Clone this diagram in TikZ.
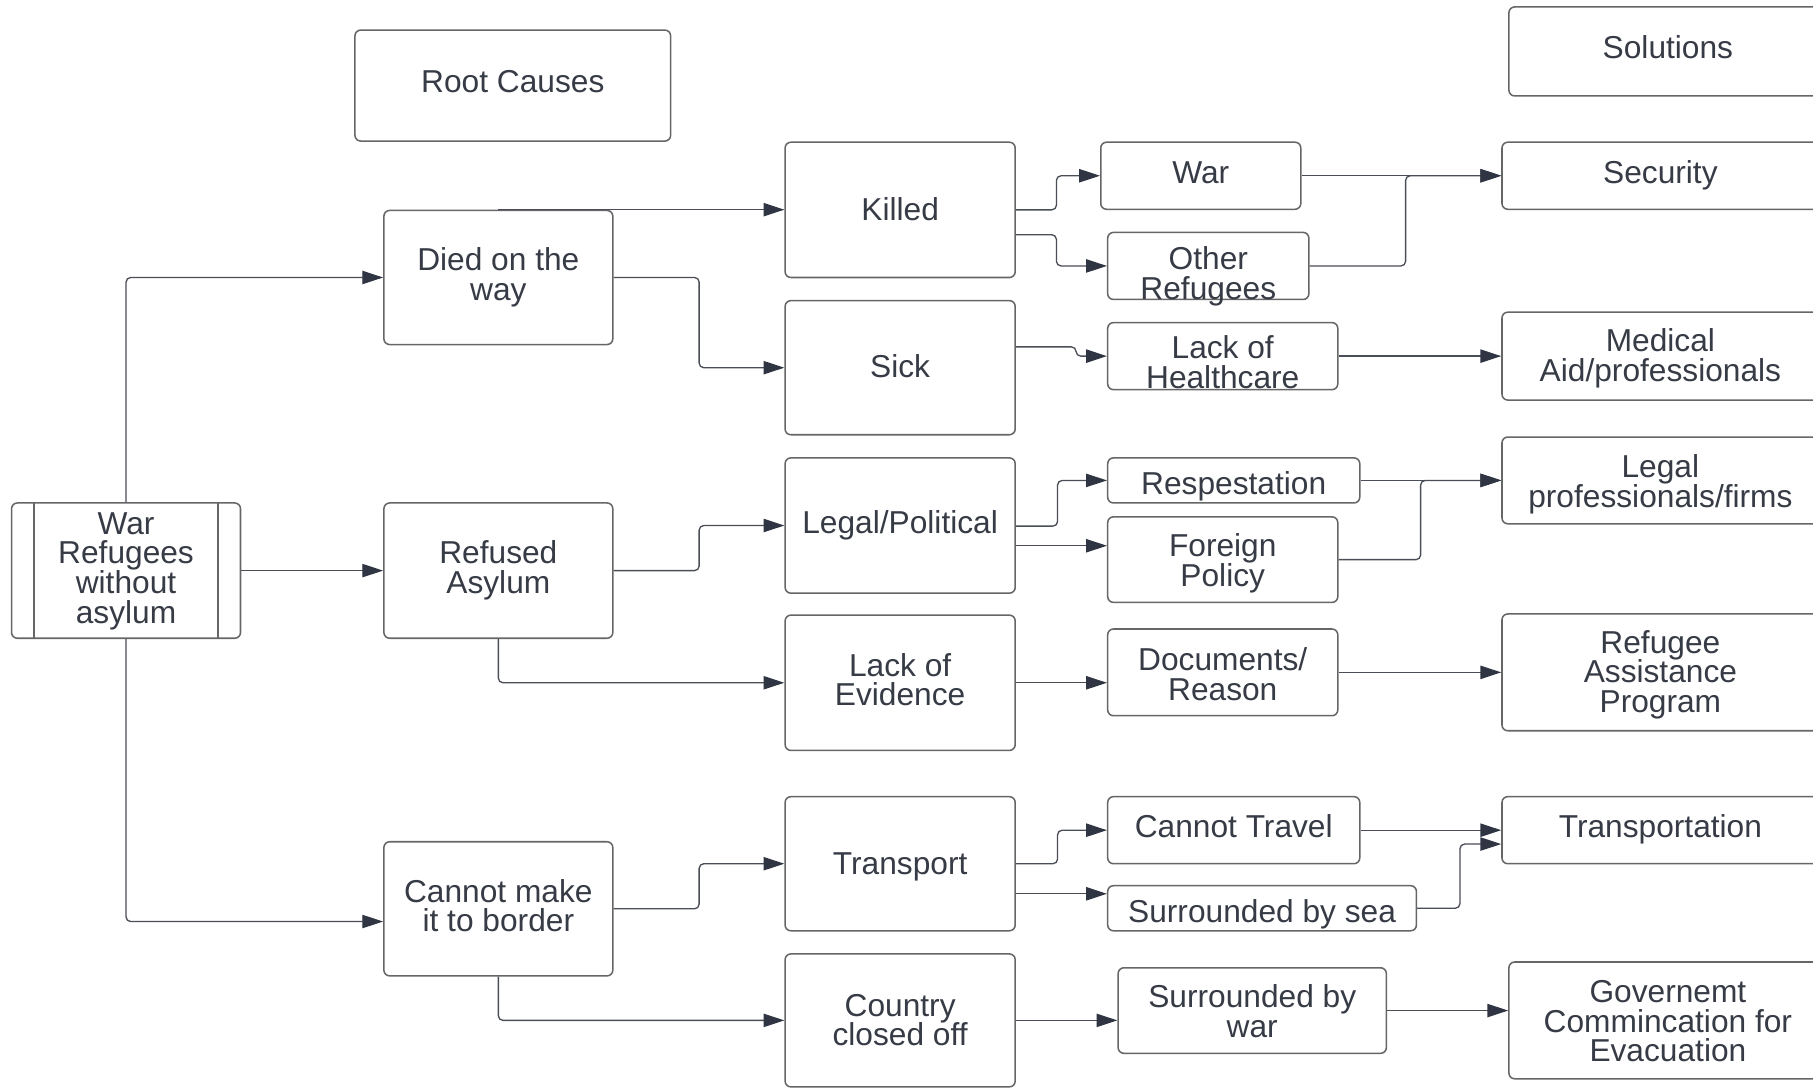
\documentclass[tikz,border=0pt]{standalone}
\usepackage{fontspec}
\usepackage{array}
\setmainfont{Liberation Sans}
\usetikzlibrary{arrows.meta}
\definecolor{txt}{HTML}{363B45}
\definecolor{edge}{HTML}{666666}
\definecolor{wire}{HTML}{4A4E57}
\definecolor{tip}{HTML}{2F3542}
\newlength\px
\setlength\px{0.02cm}
% one text line: fixed ascent and descent, so lines sit 14.7pt apart
\newcolumntype{L}{>{\rule[-3.3pt]{0pt}{14.7pt}}c}
% \boxat[text drop]{name}{x1}{y1}{x2}{y2}{text}: box given by its corners
\newcommand\boxat[7][0]{\node[box,minimum width={(#5-#3)*0.02cm},minimum height={(#6-#4)*0.02cm}] (#2) at ({(#3+#5)/2},{(#4+#6)/2}) {\raisebox{-#1\px}[\height][\depth]{\renewcommand\arraystretch{0}\begin{tabular}{@{}L@{}}#7\end{tabular}}};}
\tikzset{
  box/.style={draw=edge, line width=0.75pt, rounded corners=0.1cm, inner sep=0pt,
    text=txt, font=\fontsize{15.6}{14.7}\selectfont},
  conn/.style={draw=wire, line width=0.65pt, rounded corners=0.08cm,
    -{Triangle[length=0.36cm,width=0.23cm,color=tip]}},
}
\begin{document}
\begin{tikzpicture}[x=0.02cm,y=-0.02cm]
\useasboundingbox (0,0) rectangle (1568,942);
\fill[white] (0,0) rectangle (1568,942);
\clip (0,0) rectangle (1568,942);

% headings
\boxat[-1]{root}{307}{26}{580}{122}{Root Causes}
\boxat[-1]{sol}{1305}{6}{1580}{83}{Solutions}

% start
\boxat{wr}{10}{435}{208}{552}{War\\Refugees\\without\\asylum}
\draw[draw=edge, line width=0.75pt] ([xshift=0.4cm]wr.north west) -- ([xshift=0.4cm]wr.south west);
\draw[draw=edge, line width=0.75pt] ([xshift=-0.4cm]wr.north east) -- ([xshift=-0.4cm]wr.south east);

% root causes
\boxat{died}{332}{182}{530}{298}{Died on the\\way}
\boxat{refused}{332}{435}{530}{552}{Refused\\Asylum}
\boxat{cant}{332}{728}{530}{844}{Cannot make\\it to border}

% causes
\boxat[2]{killed}{679}{123}{878}{240}{Killed}
\boxat[1]{sick}{679}{260}{878}{376}{Sick}
\boxat{legal}{679}{396}{878}{513}{Legal/Political}
\boxat{evid}{679}{532}{878}{649}{Lack of\\Evidence}
\boxat[2]{trans}{679}{689}{878}{805}{Transport}
\boxat[2]{closed}{679}{825}{878}{940}{Country\\closed off}

% details
\boxat{war}{952}{123}{1125}{181}{War}
\boxat[9]{other}{958}{201}{1132}{259}{Other\\Refugees}
\boxat[8]{health}{958}{279}{1157}{337}{Lack of\\Healthcare}
\boxat[5]{resp}{958}{396}{1176}{435}{Respestation}
\boxat[3]{fp}{958}{447}{1157}{521}{Foreign\\Policy}
\boxat[4]{docs}{958}{544}{1157}{619}{Documents/\\Reason}
\boxat[-1]{ctravel}{958}{689}{1176}{747}{Cannot Travel}
\boxat[5]{sea}{958}{766}{1225}{805}{Surrounded by sea}
\boxat[3]{swar}{967}{837}{1199}{911}{Surrounded by\\war}

% solutions
\boxat{security}{1299}{123}{1580}{181}{\hspace*{-0.14cm}Security}
\boxat[2]{medical}{1299}{270}{1580}{346}{\hspace*{-0.14cm}Medical\\\hspace*{-0.14cm}Aid/professionals}
\boxat[3]{lprof}{1299}{378}{1580}{453}{\hspace*{-0.14cm}Legal\\\hspace*{-0.14cm}professionals/firms}
\boxat[2]{rap}{1299}{531}{1580}{632}{\hspace*{-0.14cm}Refugee\\\hspace*{-0.14cm}Assistance\\\hspace*{-0.14cm}Program}
\boxat[-1]{transp}{1299}{689}{1580}{747}{\hspace*{-0.14cm}Transportation}
\boxat[3]{gov}{1305}{832}{1580}{933}{Governemt\\Commincation for\\Evacuation}

% start -> root causes
\draw[conn] (wr.north) |- (died.west);
\draw[conn] (wr.east) -- (refused.west);
\draw[conn] (wr.south) |- (cant.west |- 0,797);

% root causes -> causes
\draw[conn] (died.north) -- (died.north -| killed.west);
\draw[conn] (died.east) -- ++(74,0) |- (sick.west);
\draw[conn] (refused.east) -- ++(74,0) |- (legal.west);
\draw[conn] (refused.south) |- (evid.west);
\draw[conn] (cant.east) -- ++(74,0) |- (trans.west);
\draw[conn] (cant.south) |- (closed.west);

% causes -> details
\draw[conn] (killed.east) -- ++(35,0) |- (war.west);
\draw[conn] (killed.east |- 0,203) -- ++(35,0) |- (other.west);
\draw[conn] (sick.east |- 0,300) -- ++(52,0) |- (health.west);
\draw[conn] (legal.east |- 0,455) -- ++(36,0) |- (resp.west);
\draw[conn] (legal.east |- 0,472) -- (fp.west |- 0,472);
\draw[conn] (evid.east) -- (evid.east -| docs.west);
\draw[conn] (trans.east) -- ++(36,0) |- (ctravel.west);
\draw[conn] (trans.east |- 0,773) -- (sea.west |- 0,773);
\draw[conn] (closed.east) -- (closed.east -| swar.west);

% details -> solutions
\draw[conn] (war.east) -- (security.west);
\draw[conn] (other.east) -- ++(83,0) |- (security.west);
\draw[conn] (health.east) -- (health.east -| medical.west);
\draw[conn] (resp.east) -- (resp.east -| lprof.west);
\draw[conn] (fp.east) -- ++(71,0) |- (lprof.west);
\draw[conn] (docs.east) -- (docs.east -| rap.west);
\draw[conn] (ctravel.east) -- (ctravel.east -| transp.west);
\draw[conn] (sea.east) -- ++(37,0) |- (transp.west |- 0,730);
\draw[conn] (swar.east) -- (swar.east -| gov.west);
\end{tikzpicture}
\end{document}
